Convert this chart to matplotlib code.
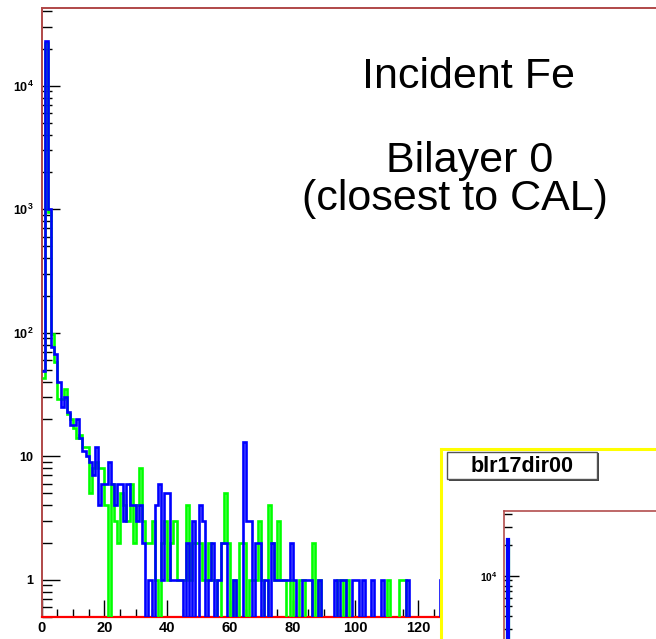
"""
Per-bilayer TKR hit multiplicity for incident Fe, bilayer 0 (closest to CAL),
drawn in a ROOT-like style with a small canvas snapshot pasted in the corner.
"""

import matplotlib
matplotlib.use("Agg")
import matplotlib.pyplot as plt
from matplotlib.patches import Rectangle
import numpy as np

# ---------------------------------------------------------------------------
# Histogram contents (unit-width bins starting at 0)
# ---------------------------------------------------------------------------
N_BINS = 200
bin_edges = np.arange(0, N_BINS + 1)

blue_counts = [
    49, 23000, 1000, 77, 67, 40, 25, 30, 23, 18,
    18, 20, 14, 11, 10, 9, 7, 12, 4, 6,
    6, 9, 6, 4, 6, 6, 3, 6, 4, 4,
    3, 4, 2, 0, 1, 0, 4, 6, 1, 5,
    5, 1, 1, 1, 1, 0, 2, 0, 3, 0,
    4, 3, 0, 1, 2, 0, 1, 2, 2, 0,
    0, 1, 0, 0, 13, 3, 3, 0, 2, 2,
    0, 1, 0, 2, 1, 1, 1, 1, 1, 2,
    1, 0, 0, 1, 1, 1, 0, 0, 1, 0,
    0, 0, 0, 1, 0, 1, 1, 0, 0, 1,
    1, 0, 1, 0, 0, 1, 0, 0, 1, 0,
    0, 0, 0, 0, 0, 0, 1, 0, 0, 0,
    0, 0, 0, 0, 0, 0, 0, 1,
]

green_counts = [
    43, 22000, 950, 97, 58, 29, 29, 35, 22, 20,
    17, 14, 15, 12, 12, 5, 8, 9, 8, 8,
    4, 0, 6, 3, 2, 5, 4, 3, 6, 2,
    4, 8, 3, 2, 2, 3, 1, 0, 2, 3,
    1, 2, 3, 1, 1, 1, 4, 1, 2, 2,
    2, 1, 1, 2, 1, 1, 0, 2, 5, 2,
    0, 1, 0, 2, 2, 0, 1, 1, 1, 3,
    1, 0, 4, 2, 1, 3, 1, 1, 0, 1,
    0, 0, 1, 1, 0, 0, 2, 0, 1, 0,
    0, 0, 0, 0, 1, 1, 0, 1, 0, 0,
    0, 0, 0, 0, 0, 0, 0, 0, 0, 0,
    1, 0, 0, 0, 1, 1, 0, 0, 0, 0,
    0, 0, 0, 0, 0, 0, 0, 0,
]

red_counts = [0] * N_BINS

x_major_ticks = [0, 20, 40, 60, 80, 100, 120, 140, 160, 180, 200]
x_tick_labels = ["0", "20", "40", "60", "80", "100", "120", "", "", "", ""]
y_major_ticks = [1, 10, 100, 1000, 10000]
y_tick_labels = ["1", "10", r"$\mathbf{10^{2}}$", r"$\mathbf{10^{3}}$", r"$\mathbf{10^{4}}$"]
inset_y_labels = ["", "", "", "", r"$\mathbf{10^{4}}$"]

# ---------------------------------------------------------------------------
# Style
# ---------------------------------------------------------------------------
W_PX, H_PX = 656, 639
DPI = 100
Y_MIN, Y_MAX = 0.5, 4.3e4

BLUE = "#0000ff"
GREEN = "#00ff00"
RED = "#ff0000"
FRAME = "#b04848"
YELLOW = "#ffff00"

plt.rcParams["font.family"] = ["Liberation Sans", "DejaVu Sans"]
plt.rcParams["mathtext.fontset"] = "custom"
plt.rcParams["mathtext.rm"] = "Liberation Sans"
plt.rcParams["mathtext.bf"] = "Liberation Sans:bold"


def pad(values):
    out = np.zeros(N_BINS)
    out[: len(values)] = values
    return out


def px_box(left, top, width, height):
    """Figure-fraction rectangle given in pixels from the top-left corner."""
    return [left / W_PX, 1 - (top + height) / H_PX, width / W_PX, height / H_PX]


def draw_hist_panel(ax, xlabels, ylabels, scale=1.0):
    lw = 1.9 * scale
    ax.stairs(pad(red_counts), bin_edges, color=RED, lw=1.6 * scale, baseline=None, zorder=2)
    ax.stairs(pad(green_counts), bin_edges, color=GREEN, lw=lw, baseline=None, zorder=3)
    ax.stairs(pad(blue_counts), bin_edges, color=BLUE, lw=lw, baseline=None, zorder=4)

    ax.set_yscale("log", nonpositive="clip")
    ax.set_xlim(0, N_BINS)
    ax.set_ylim(Y_MIN, Y_MAX)

    ax.set_yticks(y_major_ticks)
    ax.set_yticklabels(ylabels)
    ax.set_yticks([m * 10 ** e for e in range(-1, 5) for m in range(2, 10)
                   if Y_MIN <= m * 10 ** e <= Y_MAX], minor=True)
    ax.yaxis.set_minor_formatter(plt.NullFormatter())
    ax.set_xticks(x_major_ticks)
    ax.set_xticklabels(xlabels)
    ax.set_xticks(np.arange(0, N_BINS + 1, 5), minor=True)

    ax.tick_params(axis="y", which="major", direction="in", length=13 * scale,
                   width=1.0, labelsize=9 * scale, pad=6 * scale)
    ax.tick_params(axis="y", which="minor", direction="in", length=7 * scale, width=1.0)
    ax.tick_params(axis="x", which="major", direction="in", length=12 * scale,
                   width=1.0, labelsize=10.5 * scale, pad=3 * scale)
    ax.tick_params(axis="x", which="minor", direction="in", length=6 * scale, width=1.0)
    for lab in ax.get_xticklabels() + ax.get_yticklabels():
        lab.set_fontweight("bold")

    for side in ("left", "top", "right"):
        ax.spines[side].set_color(FRAME)
        ax.spines[side].set_linewidth(1.4 * scale)
    ax.spines["bottom"].set_color(RED)
    ax.spines["bottom"].set_linewidth(1.6 * scale)


fig = plt.figure(figsize=(W_PX / DPI, H_PX / DPI), dpi=DPI)

# -- main histogram ----------------------------------------------------------
ax = fig.add_axes(px_box(41.7, 7.5, 627.6, 609.5))
draw_hist_panel(ax, x_tick_labels, y_tick_labels)

fig.text(468 / W_PX, 1 - 77 / H_PX, "Incident Fe", fontsize=31, ha="center", va="center")
fig.text(470 / W_PX, 1 - 161 / H_PX, "Bilayer 0", fontsize=31, ha="center", va="center")
fig.text(455 / W_PX, 1 - 199 / H_PX, "(closest to CAL)", fontsize=31, ha="center", va="center")

# -- pasted canvas snapshot in the lower-right corner --------------------------
panel = fig.add_axes(px_box(441, 449, 260, 260))
panel.set_xticks([])
panel.set_yticks([])
panel.set_facecolor("white")
for side in panel.spines.values():
    side.set_color(YELLOW)
    side.set_linewidth(2.2)

# title box with a drop shadow
shadow = Rectangle((449 / W_PX, 1 - 481 / H_PX), 150 / W_PX, 28 / H_PX,
                   transform=fig.transFigure, facecolor="#444444", edgecolor="none", zorder=9)
title_box = Rectangle((447 / W_PX, 1 - 479 / H_PX), 150 / W_PX, 27 / H_PX,
                      transform=fig.transFigure, facecolor="white", edgecolor="#555555",
                      lw=1.0, zorder=9.5)
fig.add_artist(shadow)
fig.add_artist(title_box)
fig.text(522 / W_PX, 1 - 466 / H_PX, "blr17dir00", fontsize=15.5, fontweight="bold",
         ha="center", va="center", zorder=10)

SCALE = 0.826
inset = fig.add_axes(px_box(504, 511, 627.6 * SCALE, 609.5 * SCALE))
draw_hist_panel(inset, [""] * len(x_major_ticks), inset_y_labels, scale=SCALE)

fig.savefig("out.png", dpi=DPI)
